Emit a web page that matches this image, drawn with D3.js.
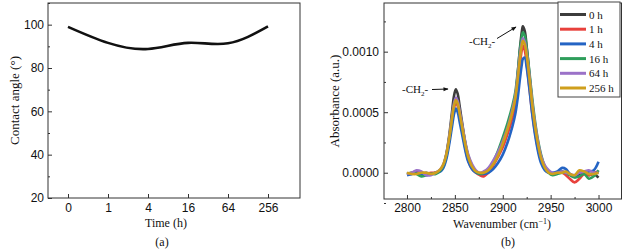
<!DOCTYPE html>
<html>
<head>
<meta charset="utf-8">
<script src="https://cdn.jsdelivr.net/npm/d3@7"></script>
<style>
  body { margin: 0; background: #fff; }
  svg { display: block; font-family: "Liberation Serif", "Times New Roman", serif; }
  .axis text { font-size: 12px; fill: #111; }
  .axis path { display: none; }
  .axis line { stroke: #333; }
  .title { font-size: 12px; fill: #111; }
</style>
</head>
<body>
<div id="chart"></div>
<script>
// ---- panel (a) data ----
const times = ["0", "1", "4", "16", "64", "256"];
const contactAngle = [99.0, 91.6, 88.8, 91.6, 91.4, 99.2];
const angleTicks = [20, 40, 60, 80, 100];
const angleMinor = [30, 50, 70, 90, 110];

// ---- panel (b) data ----
const wavenumber = [2800, 2805, 2810, 2815, 2820, 2825, 2830, 2835, 2838, 2841, 2844, 2847, 2849, 2851,
  2853, 2855, 2858, 2861, 2864, 2868, 2872, 2876, 2880, 2885, 2890, 2895, 2900, 2905,
  2910, 2913, 2916, 2918, 2920, 2921, 2923, 2925, 2928, 2931, 2934, 2937, 2940, 2944,
  2948, 2952, 2957, 2962, 2966, 2970, 2975, 2980, 2985, 2990, 2995, 3000];

const abs0h = [-0.00001, -0.00001, 0.00000, -0.00001, 0.00000, -0.00001, 0.00000, 0.00002, 0.00006, 0.00015, 0.00030, 0.00050, 0.00063, 0.00069,
  0.00065, 0.00055, 0.00039, 0.00024, 0.00013, 0.00005, 0.00001, -0.00001, -0.00002, 0.00002, 0.00008, 0.00016, 0.00025, 0.00036,
  0.00050, 0.00062, 0.00085, 0.00103, 0.00117, 0.00121, 0.00117, 0.00104, 0.00080, 0.00056, 0.00037, 0.00023, 0.00013, 0.00005,
  0.00001, -0.00001, 0.00000, 0.00001, 0.00000, -0.00001, -0.00003, -0.00001, 0.00000, -0.00002, -0.00001, -0.00004];
const abs1h = [-0.00001, 0.00000, 0.00001, -0.00001, -0.00001, 0.00000, 0.00000, 0.00002, 0.00005, 0.00013, 0.00026, 0.00042, 0.00053, 0.00058,
  0.00055, 0.00046, 0.00033, 0.00020, 0.00010, 0.00003, 0.00000, -0.00002, -0.00003, 0.00000, 0.00006, 0.00013, 0.00021, 0.00032,
  0.00045, 0.00056, 0.00075, 0.00090, 0.00102, 0.00105, 0.00101, 0.00090, 0.00069, 0.00048, 0.00032, 0.00019, 0.00010, 0.00003,
  0.00000, -0.00001, 0.00000, 0.00000, -0.00002, -0.00005, -0.00008, -0.00005, -0.00001, -0.00002, 0.00000, 0.00001];
const abs4h = [-0.00002, -0.00001, 0.00000, -0.00001, -0.00002, -0.00001, 0.00000, 0.00001, 0.00004, 0.00011, 0.00023, 0.00038, 0.00048, 0.00053,
  0.00050, 0.00042, 0.00030, 0.00018, 0.00009, 0.00003, 0.00000, -0.00001, -0.00001, 0.00000, 0.00003, 0.00008, 0.00015, 0.00025,
  0.00038, 0.00048, 0.00064, 0.00078, 0.00090, 0.00094, 0.00095, 0.00087, 0.00068, 0.00047, 0.00030, 0.00017, 0.00008, 0.00002,
  0.00000, 0.00000, 0.00001, 0.00004, 0.00003, -0.00001, -0.00003, 0.00001, 0.00000, 0.00001, 0.00002, 0.00009];
const abs16h = [-0.00001, 0.00000, -0.00001, -0.00003, -0.00002, -0.00001, -0.00001, 0.00002, 0.00006, 0.00014, 0.00028, 0.00045, 0.00056, 0.00061,
  0.00058, 0.00050, 0.00037, 0.00024, 0.00014, 0.00006, 0.00001, -0.00001, 0.00000, 0.00003, 0.00009, 0.00018, 0.00029, 0.00041,
  0.00055, 0.00066, 0.00086, 0.00102, 0.00113, 0.00116, 0.00113, 0.00103, 0.00082, 0.00060, 0.00041, 0.00026, 0.00015, 0.00005,
  0.00000, -0.00002, -0.00001, 0.00000, 0.00000, -0.00002, -0.00004, -0.00003, -0.00001, -0.00005, -0.00003, 0.00002];
const abs64h = [-0.00001, 0.00000, 0.00002, 0.00001, -0.00002, -0.00002, 0.00000, 0.00003, 0.00007, 0.00015, 0.00029, 0.00046, 0.00057, 0.00062,
  0.00059, 0.00051, 0.00038, 0.00025, 0.00015, 0.00007, 0.00002, 0.00000, 0.00001, 0.00004, 0.00010, 0.00017, 0.00026, 0.00037,
  0.00052, 0.00063, 0.00083, 0.00098, 0.00108, 0.00111, 0.00108, 0.00099, 0.00079, 0.00057, 0.00039, 0.00025, 0.00014, 0.00006,
  0.00002, 0.00000, 0.00000, 0.00001, 0.00000, -0.00001, -0.00002, 0.00000, 0.00001, 0.00002, 0.00000, 0.00000];
const abs256h = [0.00000, -0.00001, -0.00001, 0.00000, 0.00000, -0.00001, 0.00000, 0.00003, 0.00007, 0.00015, 0.00028, 0.00045, 0.00055, 0.00060,
  0.00057, 0.00049, 0.00036, 0.00023, 0.00013, 0.00005, 0.00001, 0.00000, 0.00000, 0.00002, 0.00007, 0.00014, 0.00024, 0.00036,
  0.00050, 0.00061, 0.00080, 0.00095, 0.00106, 0.00109, 0.00106, 0.00097, 0.00077, 0.00055, 0.00037, 0.00023, 0.00012, 0.00004,
  0.00000, -0.00001, 0.00000, 0.00000, 0.00001, -0.00001, -0.00002, 0.00002, 0.00001, -0.00001, -0.00001, 0.00000];

const seriesNames = ["0 h", "1 h", "4 h", "16 h", "64 h", "256 h"];
const seriesColors = ["#3c3c3c", "#e8413c", "#2464c4", "#2e9e5b", "#9b72c8", "#cf9f1c"];
const seriesValues = [abs0h, abs1h, abs4h, abs16h, abs64h, abs256h];
const wnTicks = [2800, 2850, 2900, 2950, 3000];
const wnMinor = [2825, 2875, 2925, 2975];
const absTicks = [0, 0.0005, 0.0010];
const absMinor = [-0.00025, 0.00025, 0.00075, 0.00125];

const width = 623, height = 251;
const svg = d3.select("#chart").append("svg")
  .attr("width", width)
  .attr("height", height);

// ================= panel (a) =================
const a = { left: 48, right: 300, top: 3, bottom: 198 };

const xA = d3.scalePoint().domain(times).range([68, 268]);
const yA = d3.scaleLinear().domain([20, 110]).range([a.bottom, a.top]);

svg.append("g").attr("class", "axis")
  .attr("transform", `translate(0,${a.bottom})`)
  .call(d3.axisBottom(xA).tickSize(-4).tickPadding(5));

svg.append("g").attr("class", "axis")
  .attr("transform", `translate(${a.left},0)`)
  .call(d3.axisLeft(yA).tickValues(angleTicks).tickSize(-4).tickPadding(4));

svg.append("g").attr("class", "axis")
  .attr("transform", `translate(${a.left},0)`)
  .call(d3.axisLeft(yA).tickValues(angleMinor).tickSize(-2).tickFormat(""));

svg.append("rect")
  .attr("x", a.left).attr("y", a.top)
  .attr("width", a.right - a.left).attr("height", a.bottom - a.top)
  .attr("fill", "none").attr("stroke", "#333").attr("stroke-width", 1);

const lineA = d3.line()
  .x((d, i) => xA(times[i]))
  .y(d => yA(d))
  .curve(d3.curveNatural);

svg.append("path")
  .datum(contactAngle)
  .attr("d", lineA)
  .attr("fill", "none")
  .attr("stroke", "#111")
  .attr("stroke-width", 2.6);

svg.append("text").attr("class", "title")
  .attr("x", (a.left + a.right) / 2 - 8).attr("y", 227)
  .attr("text-anchor", "middle")
  .text("Time (h)");

svg.append("text").attr("class", "title")
  .attr("transform", `translate(19,${(a.top + a.bottom) / 2}) rotate(-90)`)
  .attr("text-anchor", "middle")
  .style("font-size", "13px")
  .text("Contact angle (°)");

svg.append("text").attr("class", "title")
  .attr("x", 162).attr("y", 246)
  .attr("text-anchor", "middle")
  .text("(a)");

// ================= panel (b) =================
const b = { left: 384, right: 621.5, top: 3, bottom: 199 };

const xB = d3.scaleLinear().domain([2776, 3024]).range([b.left, b.right]);
const yB = d3.scaleLinear().domain([-0.000217, 0.001402]).range([b.bottom, b.top]);

svg.append("g").attr("class", "axis")
  .attr("transform", `translate(0,${b.bottom})`)
  .call(d3.axisBottom(xB).tickValues(wnTicks).tickSize(-4).tickPadding(4).tickFormat(d3.format("d")));

svg.append("g").attr("class", "axis")
  .attr("transform", `translate(0,${b.bottom})`)
  .call(d3.axisBottom(xB).tickValues(wnMinor).tickSize(-2).tickFormat(""));

svg.append("g").attr("class", "axis")
  .attr("transform", `translate(${b.left},0)`)
  .call(d3.axisLeft(yB).tickValues(absTicks).tickSize(-4).tickPadding(5).tickFormat(d3.format(".4f")));

svg.append("g").attr("class", "axis")
  .attr("transform", `translate(${b.left},0)`)
  .call(d3.axisLeft(yB).tickValues(absMinor).tickSize(-2).tickFormat(""));

const lineB = d3.line()
  .x((d, i) => xB(wavenumber[i]))
  .y(d => yB(d))
  .curve(d3.curveCatmullRom.alpha(0.5));

svg.append("g")
  .selectAll("path")
  .data(seriesValues)
  .join("path")
  .attr("d", lineB)
  .attr("fill", "none")
  .attr("stroke", (d, i) => seriesColors[i])
  .attr("stroke-width", 2.6)
  .attr("stroke-linejoin", "round");

svg.append("rect")
  .attr("x", b.left).attr("y", b.top)
  .attr("width", b.right - b.left).attr("height", b.bottom - b.top)
  .attr("fill", "none").attr("stroke", "#333").attr("stroke-width", 1);

// peak annotations
svg.append("defs").append("marker")
  .attr("id", "arrow")
  .attr("viewBox", "0 0 10 10")
  .attr("refX", 9).attr("refY", 5)
  .attr("markerWidth", 6).attr("markerHeight", 5)
  .attr("orient", "auto")
  .append("path").attr("d", "M0,1 L10,5 L0,9 Z").attr("fill", "#111");

const labels = [
  { x: 402, y: 93, x1: 432, y1: 89.5, x2: 448, y2: 89 },
  { x: 469, y: 45, x1: 497, y1: 38.5, x2: 516, y2: 27 }
];

labels.forEach(l => {
  const t = svg.append("text").attr("class", "title")
    .attr("x", l.x).attr("y", l.y).style("font-size", "11px");
  t.append("tspan").text("-CH");
  t.append("tspan").attr("dy", 3).style("font-size", "7px").text("2");
  t.append("tspan").attr("dy", -3).text("-");
  svg.append("line")
    .attr("x1", l.x1).attr("y1", l.y1).attr("x2", l.x2).attr("y2", l.y2)
    .attr("stroke", "#111").attr("stroke-width", 1)
    .attr("marker-end", "url(#arrow)");
});

// legend
const legend = svg.append("g").attr("transform", "translate(558,2)");
legend.append("rect")
  .attr("width", 62).attr("height", 95)
  .attr("fill", "#fff").attr("stroke", "#444").attr("stroke-width", 1);

const legendRows = legend.selectAll("g")
  .data(seriesNames)
  .join("g")
  .attr("transform", (d, i) => `translate(0,${12.5 + i * 14.7})`);

legendRows.append("line")
  .attr("x1", 2).attr("x2", 28)
  .attr("stroke", (d, i) => seriesColors[i])
  .attr("stroke-width", 3);

legendRows.append("text")
  .attr("x", 31).attr("y", 4)
  .style("font-size", "11px").attr("fill", "#111")
  .text(d => d);

const wnTitle = svg.append("text").attr("class", "title")
  .attr("x", 502).attr("y", 228)
  .attr("text-anchor", "middle");
wnTitle.append("tspan").text("Wavenumber (cm");
wnTitle.append("tspan").attr("dy", -4).style("font-size", "8px").text("−1");
wnTitle.append("tspan").attr("dy", 4).text(")");

svg.append("text").attr("class", "title")
  .attr("transform", `translate(339,${(b.top + b.bottom) / 2}) rotate(-90)`)
  .attr("text-anchor", "middle")
  .style("font-size", "13px")
  .text("Absorbance (a.u.)");

svg.append("text").attr("class", "title")
  .attr("x", 508).attr("y", 246)
  .attr("text-anchor", "middle")
  .text("(b)");
</script>
</body>
</html>
